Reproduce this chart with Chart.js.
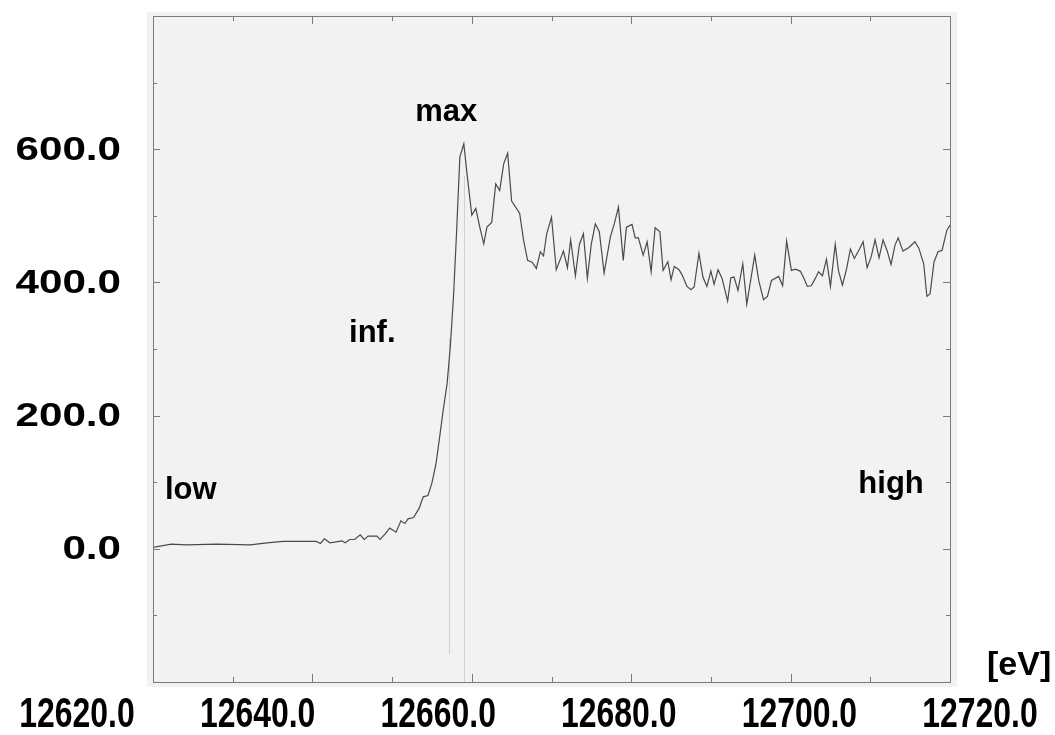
<!DOCTYPE html>
<html>
<head>
<meta charset="utf-8">
<script src="https://cdn.jsdelivr.net/npm/chart.js@4/dist/chart.umd.min.js"></script>
<style>
  html, body { margin: 0; padding: 0; background: #ffffff; }
  #wrap { width: 1055px; height: 735px; }
</style>
</head>
<body>
<div id="wrap"><canvas id="c" width="1055" height="735"></canvas></div>
<script>
// ---- data ----
const energy = [
  12620.0, 12622.3, 12624.2, 12628.0, 12632.2, 12634.3, 12636.3, 12640.5, 12641.0, 12641.5,
  12642.2, 12642.8, 12643.7, 12644.1, 12644.7, 12645.3, 12646.0, 12646.5, 12647.0, 12648.1,
  12648.5, 12649.1, 12649.7, 12650.5, 12651.1, 12651.6, 12652.0, 12652.7, 12653.4, 12653.9,
  12654.5, 12655.0, 12655.5, 12655.9, 12656.4, 12656.9, 12657.3, 12657.7, 12658.1, 12658.5,
  12659.0, 12659.4, 12660.0, 12660.5, 12661.0, 12661.5, 12661.9, 12662.5, 12663.0, 12663.5,
  12664.0, 12664.5, 12665.0, 12666.0, 12666.5, 12667.0, 12667.6, 12668.1, 12668.6, 12669.0,
  12669.4, 12670.0, 12670.6, 12671.5, 12672.0, 12672.4, 12673.0, 12673.5, 12674.0, 12674.5,
  12675.0, 12675.5, 12676.0, 12676.6, 12677.4, 12677.9, 12678.4, 12679.0, 12679.4, 12680.1,
  12680.5, 12680.9, 12681.5, 12682.0, 12682.5, 12683.0, 12683.6, 12684.0, 12684.6, 12685.0,
  12685.4, 12686.0, 12686.4, 12687.0, 12687.5, 12687.9, 12688.5, 12689.0, 12689.5, 12690.0,
  12690.4, 12690.9, 12691.4, 12692.1, 12692.5, 12692.9, 12693.4, 12694.0, 12694.5, 12695.5,
  12696.0, 12696.6, 12697.1, 12697.6, 12698.5, 12699.0, 12699.5, 12700.1, 12700.6, 12701.2,
  12701.6, 12702.1, 12702.6, 12703.1, 12703.5, 12704.0, 12704.5, 12705.0, 12705.6, 12706.0,
  12706.5, 12707.0, 12707.5, 12708.0, 12708.6, 12709.1, 12709.6, 12710.1, 12710.6, 12711.1,
  12711.6, 12712.1, 12712.6, 12713.1, 12713.5, 12714.1, 12714.8, 12715.6, 12716.1, 12716.7,
  12717.1, 12717.5, 12718.0, 12718.5, 12719.0, 12719.6, 12720.0
];
const absorbance = [
  2, 7, 6, 7, 6, 9, 11, 11, 8, 15,
  9, 10, 12, 9, 14, 14, 21, 14, 19, 19,
  14, 22, 31, 25, 42, 38, 45, 47, 61, 78,
  80, 99, 127, 162, 207, 248, 303, 378, 478, 588,
  608, 563, 501, 511, 483, 458, 483, 490, 548, 538,
  578, 594, 522, 504, 463, 433, 430, 421, 446, 440,
  473, 498, 419, 447, 422, 464, 410, 457, 473, 406,
  458, 488, 476, 414, 469, 489, 513, 433, 483, 487,
  467, 467, 441, 461, 416, 482, 476, 418, 431, 404,
  424, 419, 411, 394, 389, 393, 444, 408, 394, 417,
  397, 419, 406, 372, 407, 408, 388, 428, 367, 441,
  403, 374, 379, 403, 409, 395, 462, 418, 420, 417,
  408, 394, 395, 406, 416, 410, 435, 394, 457, 418,
  396, 419, 450, 436, 449, 461, 422, 438, 464, 437,
  464, 448, 427, 456, 467, 447, 452, 461, 451, 428,
  379, 383, 431, 446, 448, 478, 486
];
const xTickLabels = ["12620.0", "12640.0", "12660.0", "12680.0", "12700.0", "12720.0"];
const yTickValues = [0, 200, 400, 600];
const markerEnergies = [12657.2, 12659.0];   // inflection, maximum
const markerFrom = [317, 560];
const markerTo = [-158, -200];
const noteTexts = ["low", "inf.", "max", "high"];
const noteEnergies = [12621.5, 12644.6, 12652.9, 12708.5];
const noteValues = [75, 310, 642, 84];

// ---- chart ----
const FONT = '"Liberation Sans", Arial, Helvetica, sans-serif';
const points = energy.map((e, i) => ({ x: e, y: absorbance[i] }));

const decor = {
  id: 'decor',
  beforeDraw(chart) {
    const { ctx, chartArea: a } = chart;
    ctx.save();
    ctx.fillStyle = '#ffffff';
    ctx.fillRect(0, 0, chart.width, chart.height);
    ctx.fillStyle = '#f2f2f2';
    ctx.fillRect(a.left - 6, a.top - 4, (a.right - a.left) + 13, (a.bottom - a.top) + 9);
    ctx.restore();
  },
  beforeDatasetsDraw(chart) {
    const { ctx } = chart;
    const xs = chart.scales.x, ys = chart.scales.y;
    ctx.save();
    ctx.strokeStyle = '#d0d0d0';
    ctx.lineWidth = 1;
    markerEnergies.forEach((e, i) => {
      const px = Math.round(xs.getPixelForValue(e)) + 0.5;
      ctx.beginPath();
      ctx.moveTo(px, ys.getPixelForValue(markerFrom[i]));
      ctx.lineTo(px, ys.getPixelForValue(markerTo[i]));
      ctx.stroke();
    });
    ctx.restore();
  },
  afterDraw(chart) {
    const { ctx, chartArea: a } = chart;
    const xs = chart.scales.x, ys = chart.scales.y;
    ctx.save();
    // frame
    ctx.strokeStyle = '#7a7a7a';
    ctx.lineWidth = 1;
    ctx.strokeRect(Math.round(a.left) + 0.5, Math.round(a.top) + 0.5,
                   Math.round(a.right - a.left), Math.round(a.bottom - a.top));
    // x ticks (inward, top and bottom)
    for (let v = xs.min + 10; v < xs.max; v += 10) {
      const px = Math.round(xs.getPixelForValue(v)) + 0.5;
      const len = ((v - xs.min) % 20 === 0) ? 8 : 5;
      ctx.beginPath();
      ctx.moveTo(px, a.bottom); ctx.lineTo(px, a.bottom - len);
      ctx.moveTo(px, a.top); ctx.lineTo(px, a.top + len);
      ctx.stroke();
    }
    // y ticks (inward, left and right)
    for (let v = ys.min + 100; v < ys.max; v += 100) {
      const py = Math.round(ys.getPixelForValue(v)) + 0.5;
      const len = (v % 200 === 0) ? 7 : 4;
      ctx.beginPath();
      ctx.moveTo(a.left, py); ctx.lineTo(a.left + len, py);
      ctx.moveTo(a.right, py); ctx.lineTo(a.right - len, py);
      ctx.stroke();
    }
    // y tick labels
    ctx.fillStyle = '#000000';
    ctx.font = 'bold 34px ' + FONT;
    ctx.textAlign = 'right';
    ctx.textBaseline = 'middle';
    yTickValues.forEach(v => {
      ctx.save();
      ctx.translate(121, ys.getPixelForValue(v) + 1);
      ctx.scale(1.24, 1);
      ctx.fillText(v.toFixed(1), 0, 0);
      ctx.restore();
    });
    // x tick labels (condensed, evenly spread under the whole figure)
    ctx.textAlign = 'center';
    ctx.textBaseline = 'alphabetic';
    ctx.font = 'bold 42px ' + FONT;
    const first = 77, step = 180.6;
    xTickLabels.forEach((t, i) => {
      ctx.save();
      ctx.translate(first + i * step, 727);
      ctx.scale(0.76, 1);
      ctx.fillText(t, 0, 0);
      ctx.restore();
    });
    // unit
    ctx.textAlign = 'left';
    ctx.font = 'bold 34px ' + FONT;
    ctx.fillText('[eV]', a.right + 37, a.bottom - 7);
    // notes
    ctx.font = 'bold 31px ' + FONT;
    noteTexts.forEach((t, i) => {
      ctx.fillText(t, xs.getPixelForValue(noteEnergies[i]), ys.getPixelForValue(noteValues[i]));
    });
    ctx.restore();
  }
};

new Chart(document.getElementById('c'), {
  type: 'line',
  data: {
    datasets: [{
      data: points,
      borderColor: '#4a4a4a',
      borderWidth: 1.2,
      pointRadius: 0,
      tension: 0,
      fill: false
    }]
  },
  options: {
    responsive: false,
    animation: false,
    devicePixelRatio: 1,
    layout: { padding: { left: 153, right: 105, top: 16, bottom: 53 } },
    plugins: { legend: { display: false }, tooltip: { enabled: false } },
    scales: {
      x: { type: 'linear', min: 12620, max: 12720, display: false },
      y: { type: 'linear', min: -200, max: 800, display: false }
    }
  },
  plugins: [decor]
});
</script>
</body>
</html>
